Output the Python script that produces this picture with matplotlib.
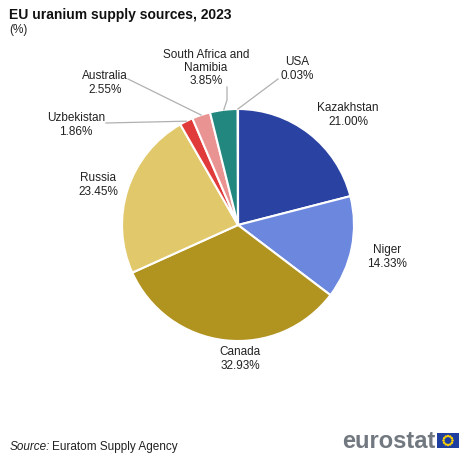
import matplotlib
matplotlib.use("Agg")
import matplotlib.pyplot as plt
from matplotlib.patches import Rectangle, Circle
import numpy as np

# --- data ---
countries = ["Kazakhstan", "Niger", "Canada", "Russia", "Uzbekistan",
             "Australia", "South Africa and\nNamibia", "USA"]
shares = [21.00, 14.33, 32.93, 23.45, 1.86, 2.55, 3.85, 0.03]
colors = ["#2a43a2", "#6c87de", "#b1931f", "#e1c96b", "#e03a3a",
          "#ea9393", "#22877f", "#8fa8e8"]

W, H = 474, 458
fig = plt.figure(figsize=(W / 100, H / 100), dpi=100)
ax = fig.add_axes([0, 0, 1, 1])

# pie drawn in pixel coords (y flipped, so counterclock=True draws clockwise on screen)
cx, cy, r = 238, 225, 116
wedges, _ = ax.pie(shares, colors=colors, startangle=-90, counterclock=True,
                   center=(cx, cy), radius=r, frame=True,
                   wedgeprops=dict(edgecolor="white", linewidth=1.5))
ax.set_xlim(0, W)
ax.set_ylim(H, 0)
ax.set_aspect("equal")
ax.axis("off")

# --- labels ---
txt = dict(fontsize=8.5, color="#222222", ha="center", va="center",
           family="Liberation Sans", linespacing=1.15)
label_pos = [(348, 115), (387, 257), (240, 359), (98, 185), (76, 125),
             (105, 83), (206, 68), (297, 69)]
for name, val, (x, y) in zip(countries, shares, label_pos):
    ax.text(x, y, f"{name}\n{val:.2f}%", **txt)

# leader lines for small slices
def wedge_point(i, frac=1.0):
    w = wedges[i]
    ang = np.deg2rad((w.theta1 + w.theta2) / 2)
    return cx + r * frac * np.cos(ang), cy + r * frac * np.sin(ang)

lc = dict(color="#b0b0b0", lw=0.9)
px, py = wedge_point(4)
ax.plot([106, px], [123, py], **lc)
px, py = wedge_point(5)
ax.plot([128, px], [79, py], **lc)
px, py = wedge_point(6)
ax.plot([227, 227, px], [87, 100, py], **lc)
px, py = wedge_point(7)
ax.plot([278, px], [79, py], **lc)

# --- titles ---
fig.text(9 / W, 1 - 15 / H, "EU uranium supply sources, 2023", fontsize=10,
         fontweight="bold", family="Liberation Sans", va="center", color="#111111")
fig.text(9 / W, 1 - 30 / H, "(%)", fontsize=8.5, family="Liberation Sans",
         va="center", color="#222222")

fig.text(10 / W, 1 - 447 / H, "Source:", fontsize=8.5, style="italic",
         family="Liberation Sans", va="center", color="#222222")
fig.text(52 / W, 1 - 447 / H, "Euratom Supply Agency", fontsize=8.5,
         family="Liberation Sans", va="center", color="#222222")

# eurostat logo
fig.text(342 / W, 1 - 441 / H, "eurostat", fontsize=17, color="#727880",
         family="Liberation Sans", fontweight="bold", va="center")
ax.add_patch(Rectangle((437, 433), 22, 15, facecolor="#1f3fa0", edgecolor="none"))
for a in np.linspace(0, 2 * np.pi, 12, endpoint=False):
    ax.add_patch(Circle((448 + 4.5 * np.cos(a), 440.5 + 4.5 * np.sin(a)), 0.55,
                        color="#ffd200"))

fig.savefig("out.png", dpi=100)
